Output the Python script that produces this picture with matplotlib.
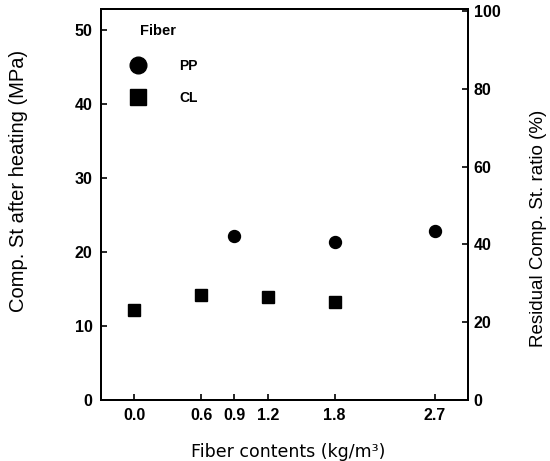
import matplotlib
matplotlib.use('Agg')
import matplotlib.pyplot as plt
from matplotlib.lines import Line2D

## fiber content vs compressive strength after heating
pp_x = [0.9, 1.8, 2.7]
pp_y = [22.2, 21.4, 22.8]
cl_x = [0.0, 0.6, 1.2, 1.8]
cl_y = [12.2, 14.2, 14.0, 13.3]
x_ticks = [0.0, 0.6, 0.9, 1.2, 1.8, 2.7]
left_ticks = [0, 10, 20, 30, 40, 50]
right_ticks = [0, 20, 40, 60, 80, 100]

plt.rcParams['font.family'] = 'Liberation Sans'

fig = plt.figure(figsize=(5.5, 4.61), dpi=100)
ax = fig.add_axes([101/550, 1 - 400/461, 367/550, 391/461])

ax.plot(pp_x, pp_y, 'o', color='black', markersize=8.6, linestyle='none')
ax.plot(cl_x, cl_y, 's', color='black', markersize=8.6, linestyle='none')

ax.set_xlim(-0.3, 3.0)
ax.set_ylim(0, 52.9)
ax.set_xticks(x_ticks)
ax.set_xticklabels(['%.1f' % v for v in x_ticks])
ax.set_yticks(left_ticks)
for sp in ax.spines.values():
    sp.set_linewidth(1.4)
ax.tick_params(direction='in', length=4.5, width=1.2, labelsize=11.5, pad=6)
for lab in ax.get_xticklabels() + ax.get_yticklabels():
    lab.set_fontweight('bold')

ax.set_ylabel('Comp. St after heating (MPa)', fontsize=14.5)
ax.yaxis.set_label_coords(-0.199, 0.56)
ax.set_xlabel('Fiber contents (kg/m³)', fontsize=12.5, family='DejaVu Sans')
ax.xaxis.set_label_coords(0.51, -0.11)

# right axis: residual strength ratio
ax2 = ax.twinx()
ax2.set_ylim(0, 100.5)
ax2.set_yticks(right_ticks)
ax2.tick_params(direction='in', length=4.5, width=1.2, labelsize=11.5, pad=4)
for lab in ax2.get_yticklabels():
    lab.set_fontweight('bold')
for sp in ax2.spines.values():
    sp.set_linewidth(1.4)
ax2.set_ylabel('Residual Comp. St. ratio (%)', fontsize=13.5)
ax2.yaxis.set_label_coords(1.168, 0.44)

ax.text(0.106, 0.944, 'Fiber', transform=ax.transAxes, fontsize=10.5,
        fontweight='bold', ha='left', va='center')
handles = [Line2D([], [], marker='o', color='black', linestyle='none', markersize=12),
           Line2D([], [], marker='s', color='black', linestyle='none', markersize=12)]
leg = ax.legend(handles, ['PP', 'CL'], loc='upper left',
                bbox_to_anchor=(0.029, 0.905), frameon=False, handletextpad=1.96,
                labelspacing=1.3, prop={'weight': 'bold', 'size': 10})

fig.savefig('out.png', dpi=100)
